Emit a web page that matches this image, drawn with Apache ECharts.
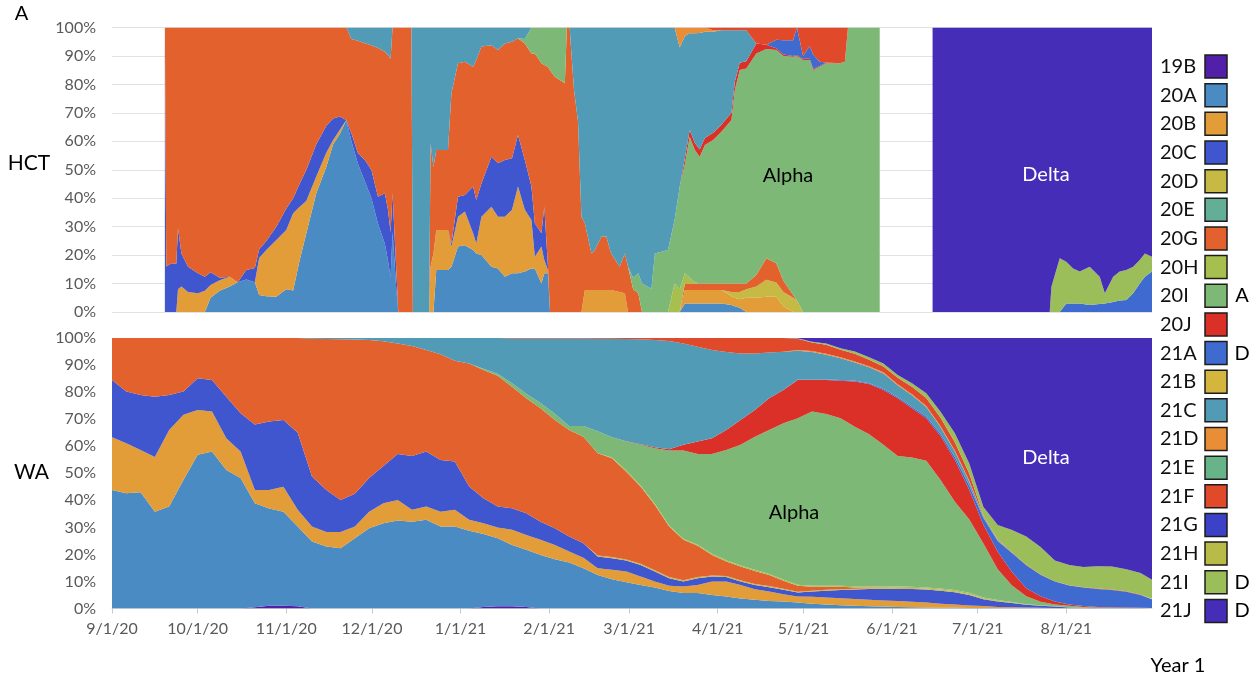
<!DOCTYPE html>
<html>
<head>
<meta charset="utf-8">
<title>SARS-CoV-2 clade frequencies, HCT and WA</title>
<script src="https://cdn.jsdelivr.net/npm/echarts@6/dist/echarts.min.js"></script>
<style>
  html, body { margin: 0; padding: 0; background: #ffffff; }
  #chart { width: 1259px; height: 679px; }
</style>
</head>
<body>
<div id="chart"></div>
<script>
// ---- categories ----
const clades = ['19B','20A','20B','20C','20D','20E','20G','20H','20I','20J',
                '21A','21B','21C','21D','21E','21F','21G','21H','21I','21J'];
const cladeNotes = { '20I': 'A', '21A': 'D', '21I': 'D', '21J': 'D' };
const monthTicks = ['9/1/20','10/1/20','11/1/20','12/1/20','1/1/21','2/1/21',
                    '3/1/21','4/1/21','5/1/21','6/1/21','7/1/21','8/1/21'];

// ---- HCT panel: sample days (days after 9/1/20) and clade shares (%) ----
const hctDay = [
18.5,19,20.8,22.5,23.1,24.3,26.6,30.1,32.5,34.5,
37.7,41.2,44,47,50,51.5,54,57.5,61,63.4,
65.7,68,71.5,75,77.4,79.7,82,83.8,86.1,88.5,
90.8,93.1,95.5,96.6,97.5,98.2,99.5,100.2,104.8,105.3,
111,111.5,112.5,113.5,117.6,118.8,121.1,123.5,126.4,127.5,
129.3,132.8,135.1,137.5,140,142.1,144.5,146.8,148,150.3,
151.3,152.6,153.3,155,158.5,159.2,160.2,160.5,161.7,163.1,
164.3,165.5,167.8,169,171.3,173,174.7,177.7,179.5,180.6,
182.4,184.2,185.5,188.8,190,194.6,196.9,198.7,200.5,202.2,
204,205.7,207.5,210.4,213.3,216.8,218,219.7,222,225.5,
229,232.5,235,238.4,239.7,241.9,244.2,245.4,247.7,250,
254.7,256.5,257.6,268.7,278,287.2,328.2,328.8,331.7,334,
336.4,338.7,342.2,345.7,347.5,350.4,352.7,355,357.4,359.7,
361.5,364];
const hct20A = [
0,0,0,0,0,0,0,0,0,5,
7.5,9,10.5,11.4,10.5,6,5.5,5.4,8,7.6,
18.3,27.6,41.7,51,59,62.5,67.5,60,52,46,
40,31,24,18,12.3,28,8,0,0,0,
0,0,0,14.8,14.8,15.9,23,23.5,21.8,20.6,
20,15.9,15.3,12.4,13.6,13.6,14.2,15.3,15.3,10,
13.6,13.6,0,0,0,0,0,0,0,0,
0,0,0,0,0,0,0,0,0,0,
0,0,0,0,0,0,0,0,3,3,
3,3,3,3,3,2.5,2,1.5,0,0,
0,0,0,0,0,0,0,0,0,0,
0,0,0,0,null,0,0,0,0,0,
0,0,0,0,0,0,0,0,0,0,
0,0];
const hct20B = [
0,0,0,0,8,9,7,6.6,7.5,4.5,
3.7,3.4,0,0,0,13,16.3,19.9,20.8,27.1,
18.7,11.4,5.9,5,1.5,1.5,0,0,0,0,
0,0,0,0,0,0,0,0,0,0,
0,16,20.6,14,14,7.1,10.5,11.8,5.9,3.5,
13.5,21.1,18.2,21.1,22.3,30.5,21.7,17,4.1,13,
4.7,1.2,0,0,0,0,0,0,0,0,
0,7.7,7.7,7.7,7.7,7.7,7.7,7,6.6,0,
0,0,0,0,0,0,0,0,4.7,4.7,
4.7,4.7,4.7,4.7,4.7,3,3,3,5,5,
5.4,5.4,2,0,0,0,0,0,0,0,
0,0,0,0,null,0,0,0,0,0,
0,0,0,0,0,0,0,0,0,0,
0,0];
const hct20C = [
100,16,17.1,17,21.4,11.6,8.9,7,4.9,4.5,
0.8,0,0,3.4,5,3,3.2,4.7,7.6,5.3,
8.2,10.9,11.4,9.5,7.5,4.7,0,2.8,3.8,7.4,
9.9,9.5,17.7,17.9,15.7,13.7,6.8,0,0,0,
0,0,0,0,0,1.1,7,5.8,16.4,15.3,
11.7,17.6,18.8,19.9,18.1,18.1,17.5,11.8,11.8,4.7,
18.7,1.1,0,0,0,0,0,0,0,0,
0,0,0,0,0,0,0,0,0,0,
0,0,0,0,0,0,0,0,0,0,
0,0,0,0,0,0,0,0,0,0,
0,0,0,0,0,0,0,0,0,0,
0,0,0,0,null,0,0,0,0,0,
0,0,0,0,0,0,0,0,0,0,
0,0];
const hct20D = [
0,0,0,0,0,0,0,0,0,0,
0,0,0,0,0,0,0,0,0,0,
0,0,0,0,0,0,0,0,0,0,
0,0,0,0,0,0,0,0,0,0,
0,0,0,0,0,0,0,0,0,0,
0,0,0,0,0,0,0,0,0,0,
0,0,0,0,0,0,0,0,0,0,
0,0,0,0,0,0,0,0,0,0,
0,0,0,0,0,0,0,0,0,0,
0,0,0,0,0,1.5,2,2.5,3,4,
5.9,5,5,5,4,0,0,0,0,0,
0,0,0,0,null,0,0,0,0,0,
0,0,0,0,0,0,0,0,0,0,
0,0];
const hct20G = [
0,84,82.9,83,70.6,79.4,84.1,86.4,87.6,86,
88,87.6,89.5,85.2,84.5,78,75,70,63.6,60,
54.8,50.1,41,34.5,32,31.3,32.5,33.2,39.5,41.1,
43.9,52.3,49.8,54.4,61,58.3,85.2,100,100,0,
0,43.3,30.4,28.1,28.1,52.8,46.9,46.9,42.1,49.2,
48.1,39.2,39.8,41,41,34,41,46.8,59.7,59.7,
49.8,70.3,85,82.7,80.4,100,100,95,78,67,
33.5,23.5,12.9,14.1,18.8,18.8,12.9,8.9,14,15.9,
8,6.6,0,0,0,0,0,0,2.3,2.3,
2.3,2.3,2.3,2.3,2.3,3,3,3,2,4,
7.6,6.7,4,1,0,0,0,0,0,0,
0,0,0,0,null,0,0,0,0,0,
0,0,0,0,0,0,0,0,0,0,
0,0];
const hct20H = [
0,0,0,0,0,0,0,0,0,0,
0,0,0,0,0,0,0,0,0,0,
0,0,0,0,0,0,0,0,0,0,
0,0,0,0,0,0,0,0,0,0,
0,0,0,0,0,0,0,0,0,0,
0,0,0,0,0,0,0,0,0,0,
0,0,0,0,0,0,0,0,0,0,
0,0,0,0,0,0,0,0,0,0,
0,0,0,0,0,0,10,8,3.6,2,
0.5,0,0,0,0,0,0,0,0,0,
0,0,0,0,0,0,0,0,0,0,
0,0,0,0,null,0,0,0,0,0,
0,0,0,0,0,0,0,0,0,0,
0,0];
const hct20I = [
0,0,0,0,0,0,0,0,0,0,
0,0,0,0,0,0,0,0,0,0,
0,0,0,0,0,0,0,0,0,0,
0,0,0,0,0,0,0,0,0,0,
0,0,0,0,0,0,0,0,0,0,
0,0,0,0,0,0,1.6,9.1,9.1,12.6,
13.2,13.8,15,17.3,19.6,0,0,0,0,0,
0,0,0,0,0,0,0,0,0,0,
4,7,10,8.2,20.6,21.8,22.3,36,38.4,49.6,
46.4,44.6,48.7,50.5,53.4,57.5,68,75.1,75.6,77.9,
73.5,75,79,83.7,86,88.6,88.6,85.1,86.2,87.4,
87.4,88,100,100,null,0,0,0,0,0,
0,0,0,0,0,0,0,0,0,0,
0,0];
const hct20J = [
0,0,0,0,0,0,0,0,0,0,
0,0,0,0,0,0,0,0,0,0,
0,0,0,0,0,0,0,0,0,0,
0,0,0,0,0,0,0,0,0,0,
0,0,0,0,0,0,0,0,0,0,
0,0,0,0,0,0,0,0,0,0,
0,0,0,0,0,0,0,0,0,0,
0,0,0,0,0,0,0,0,0,0,
0,0,0,0,0,0,0,0,2,2.4,
2.5,2.5,2.5,2.5,2.4,2.5,3,2.5,2.5,3.5,
1.5,0.6,0.5,0.3,0.3,0.4,0.4,0.4,0.3,0.3,
0,0,0,0,null,0,0,0,0,0,
0,0,0,0,0,0,0,0,0,0,
0,0];
const hct21A = [
0,0,0,0,0,0,0,0,0,0,
0,0,0,0,0,0,0,0,0,0,
0,0,0,0,0,0,0,0,0,0,
0,0,0,0,0,0,0,0,0,0,
0,0,0,0,0,0,0,0,0,0,
0,0,0,0,0,0,0,0,0,0,
0,0,0,0,0,0,0,0,0,0,
0,0,0,0,0,0,0,0,0,0,
0,0,0,0,0,0,0,0,0,0,
0,0,0,0,0,0,0,0,0,0,
0,3,5,5.5,9.7,1,4.5,5,1.5,0,
0,0,0,0,null,0,0,0,0,3,
3,3,2.5,2.8,3,3.5,4,4.2,6.6,10,
12.4,14.2];
const hct21C = [
0,0,0,0,0,0,0,0,0,0,
0,0,0,0,0,0,0,0,0,0,
0,0,0,0,0,0,0,4,4.7,5.5,
6.2,7.2,8.5,9.7,11,0,0,0,0,100,
100,40.7,49,43.1,43.1,23.1,12.6,12,13.8,11.4,
6.7,6.2,7.9,5.6,5,3.8,4,0,0,0,
0,0,0,0,0,0,0,5,22,33,
66.5,68.8,79.4,78.2,73.5,73.5,79.4,84.1,79.4,84.1,
88,86.4,90,91.8,79.4,78.2,67.7,49,43,34,
38.6,41,37.3,35.5,33.2,29,18,11.4,10.9,0,
0,0,0,0,0,0,0,0,0,0,
0,0,0,0,null,0,0,0,0,0,
0,0,0,0,0,0,0,0,0,0,
0,0];
const hct21D = [
0,0,0,0,0,0,0,0,0,0,
0,0,0,0,0,0,0,0,0,0,
0,0,0,0,0,0,0,0,0,0,
0,0,0,0,0,0,0,0,0,0,
0,0,0,0,0,0,0,0,0,0,
0,0,0,0,0,0,0,0,0,0,
0,0,0,0,0,0,0,0,0,0,
0,0,0,0,0,0,0,0,0,0,
0,0,0,0,0,0,0,7,3,2,
2,1.9,1.5,0.5,0,0,0,0,0,0,
0,0,0,0,0,0,0,0,0,0,
0,0,0,0,null,0,0,0,0,0,
0,0,0,0,0,0,0,0,0,0,
0,0];
const hct21F = [
0,0,0,0,0,0,0,0,0,0,
0,0,0,0,0,0,0,0,0,0,
0,0,0,0,0,0,0,0,0,0,
0,0,0,0,0,0,0,0,0,0,
0,0,0,0,0,0,0,0,0,0,
0,0,0,0,0,0,0,0,0,0,
0,0,0,0,0,0,0,0,0,0,
0,0,0,0,0,0,0,0,0,0,
0,0,0,0,0,0,0,0,0,0,
0,0,0,1,1,1,1,1,1,5.6,
6.1,4.3,4.5,4.5,0,10,6.5,9.5,12,12.3,
12.6,12,0,0,null,0,0,0,0,0,
0,0,0,0,0,0,0,0,0,0,
0,0];
const hct21I = [
0,0,0,0,0,0,0,0,0,0,
0,0,0,0,0,0,0,0,0,0,
0,0,0,0,0,0,0,0,0,0,
0,0,0,0,0,0,0,0,0,0,
0,0,0,0,0,0,0,0,0,0,
0,0,0,0,0,0,0,0,0,0,
0,0,0,0,0,0,0,0,0,0,
0,0,0,0,0,0,0,0,0,0,
0,0,0,0,0,0,0,0,0,0,
0,0,0,0,0,0,0,0,0,0,
0,0,0,0,0,0,0,0,0,0,
0,0,0,0,null,0,0,8.9,18.9,14.7,
12.3,11.2,13.4,9.6,3.6,8.9,10.2,10.6,9.3,8.3,
8.2,5.2];
const hct21J = [
0,0,0,0,0,0,0,0,0,0,
0,0,0,0,0,0,0,0,0,0,
0,0,0,0,0,0,0,0,0,0,
0,0,0,0,0,0,0,0,0,0,
0,0,0,0,0,0,0,0,0,0,
0,0,0,0,0,0,0,0,0,0,
0,0,0,0,0,0,0,0,0,0,
0,0,0,0,0,0,0,0,0,0,
0,0,0,0,0,0,0,0,0,0,
0,0,0,0,0,0,0,0,0,0,
0,0,0,0,0,0,0,0,0,0,
0,0,0,0,null,100,100,91.1,81.1,82.3,
84.7,85.8,84.1,87.6,93.4,87.6,85.8,85.2,84.1,81.7,
79.4,80.6];

// ---- WA panel: sample days (days after 9/1/20) and clade shares (%) ----
const waDay = [
0,5,10,15,20,25,30,35,40,45,
50,55,60,65,70,75,80,85,90,95,
100,105,110,115,120,125,130,135,140,145,
150,155,160,165,170,175,180,185,190,195,
200,205,210,215,220,225,230,235,240,245,
250,255,260,265,270,275,280,285,290,295,
300,305,310,315,320,325,330,335,340,345,
350,355,360,364];
const wa19B = [
0,0,0,0,0,0,0,0,0,0,
0.5,1,1,0.8,0,0,0,0,0,0,
0,0,0,0,0,0,0.6,0.8,0.8,0.6,
0,0,0,0,0,0,0,0,0,0,
0,0,0,0,0,0,0,0,0,0,
0,0,0,0,0,0,0,0,0,0,
0,0,0,0,0,0,0,0,0,0,
0,0,0,0];
const wa20A = [
43.8,42.6,43,35.8,37.7,47.5,56.8,58,51.2,48.2,
38.4,36,34.8,29.5,24.8,22.9,22.3,26,29.7,31.5,
32.5,32.1,32.8,30.3,30.3,28.7,26.9,25.2,22.7,21.1,
19.8,18.2,17,14.9,12.4,10.8,9.7,8.7,7.8,6.5,
5.7,5.7,5,4.4,3.7,3.2,2.8,2.6,2.2,1.8,
1.5,1.2,1,0.8,0.7,0.6,0.5,0.4,0.3,0.3,
0.2,0.2,0.1,0.1,0.1,0.1,0.1,0,0,0,
0,0,0,0];
const wa20B = [
19.5,18.5,15.6,20.2,28.3,24.1,16.6,14.8,11.7,9.8,
4.9,6.8,9.2,6.2,5.5,5.4,6,4.3,6.1,7.4,
7.6,4.4,4.9,5.5,6.2,4.1,4,3.9,5.6,5.5,
5.6,5.3,4.1,3.9,2.5,3.5,4,3.1,2.2,1.9,
2.4,3,5,5.6,5,3.9,3.5,2.7,2.2,2.5,
2.6,2.6,2.5,2.4,2.3,2.2,2,1.8,1.5,1.2,
0.9,0.7,0.5,0.4,0.3,0.2,0.1,0.1,0.1,0,
0,0,0,0];
const wa20C = [
21.2,19.1,20.3,22.3,12.9,8.6,11.7,11.7,15.4,14.2,
24.2,25.3,24.7,28.5,18.5,15.5,11.8,12.1,12.4,13.8,
17,19.9,20.3,19.1,17.8,12.3,9.3,7.8,8,8,
6.7,6.2,5.5,5.3,4.3,4.3,4,4.3,3.7,2.8,
1.9,2.5,1.8,1.6,1.3,1.6,1.6,1.6,1.5,2,
2.5,3,3.5,4,4.3,4.4,4.7,4.8,4.8,4.5,
3.9,2.5,2,1.5,1,0.7,0.5,0.3,0.2,0.1,
0.1,0.1,0,0];
const wa20D = [
0,0,0,0,0,0,0,0,0,0,
0,0,0,0,0,0,0,0,0,0,
0,0,0,0,0,0,0,0,0,0,
0,0,0,0,0.4,0.4,0.4,0.4,0.4,0.4,
0.4,0.4,0.4,0.4,0.4,0.4,0.4,0.4,0.3,0.3,
0.3,0.3,0.3,0.3,0.3,0.3,0.3,0.3,0.3,0.3,
0.3,0.2,0.1,0.1,0,0,0,0,0,0,
0,0,0,0];
const wa20G = [
15.5,19.8,21.1,21.7,21.1,19.8,14.9,15.5,21.7,27.8,
32,30.9,30.3,35,50.9,55.8,59.4,57,51.1,46.1,
40.9,40.6,37.6,39.1,37.3,45.5,47.4,48.3,44.9,42.5,
41.9,40,39.4,39.4,37.8,36.5,32.5,28.6,24.2,18.7,
15,11.6,7.6,5.4,5.1,4.8,4.1,3,2.2,1.4,
1.1,0.9,0.5,0.3,0.2,0.2,0.1,0.1,0.1,0.1,
0.1,0.1,0.1,0,0,0,0,0,0,0,
0,0,0,0];
const wa20H = [
0,0,0,0,0,0,0,0,0,0,
0,0,0,0,0,0,0,0,0,0,
0,0,0,0,0,0,0,0,0,0,
0,0,0,0,0,0.3,0.4,0.4,0.4,0.4,
0.4,0.4,0.4,0.4,0.4,0.4,0.4,0.4,0.4,0.4,
0.4,0.4,0.4,0.4,0.4,0.4,0.4,0.4,0.4,0.4,
0.4,0.4,0.3,0.3,0.2,0.2,0.1,0.1,0,0,
0,0,0,0];
const wa20I = [
0,0,0,0,0,0,0,0,0,0,
0,0,0,0,0,0,0,0,0,0,
0,0,0,0,0,0,0.4,0.8,1.3,1.7,
2,2.3,1.5,4,8.1,7.5,10.7,15,20.5,27.7,
32.6,33.5,36.9,40.8,44.6,49.2,53.2,57.8,61.5,64.4,
63.5,61.9,59,56.2,52.3,48.3,47.8,46.8,40.1,32.7,
27.2,19.9,11.4,6.1,2.9,1.3,0.7,0.5,0.3,0.3,
0.2,0.1,0.1,0.1];
const wa20J = [
0,0,0,0,0,0,0,0,0,0,
0,0,0,0,0,0,0,0,0,0,
0,0,0,0,0,0,0,0,0,0,
0,0,0,0,0,0,0.1,0.2,0.4,0.5,
2.1,4.6,5.8,7.4,9.2,9.9,11.7,12.3,14.2,11.7,
12.6,13.9,16.7,18.6,20.3,21.3,18.2,15.7,16.3,15.4,
11,7,6.5,5,3,2,1.1,0.5,0.3,0.2,
0.2,0.2,0.2,0.1];
const wa21A = [
0,0,0,0,0,0,0,0,0,0,
0,0,0,0,0,0,0,0,0,0,
0,0,0,0,0,0,0,0,0,0,
0,0,0,0,0,0,0,0,0,0,
0,0,0,0,0,0,0,0,0.2,0.2,
0.2,0.3,0.3,0.3,0.4,0.5,0.6,0.7,0.8,1.1,
1.5,2.5,4,7,8.5,8,7.4,7,6.9,6.6,
6.3,5.8,4.7,3.2];
const wa21C = [
0,0,0,0,0,0,0,0,0,0,
0,0,0,0,0.3,0.4,0.5,0.6,0.7,1.2,
2,3,4.4,6,8.4,9.4,11.4,13.2,16.5,20.4,
23.8,27.8,32.3,32.3,34.2,36.4,37.8,38.8,39.7,40,
37.5,35.1,32.7,28.8,24.6,20.9,16.9,14.1,10.6,10.1,
9.1,8,6.7,5.9,5.7,4.3,4.2,3.5,2.4,2,
1.5,0.5,0.2,0.1,0,0,0,0,0,0,
0,0,0,0];
const wa21D = [
0,0,0,0,0,0,0,0,0,0,
0,0,0,0,0,0,0,0,0,0,
0,0,0,0,0,0,0,0,0,0,
0,0,0,0,0,0,0,0,0,0,
0,0,0,0,0,0,0,0,0.3,0.4,
0.4,0.4,0.4,0.4,0.4,0.4,0.4,0.4,0.4,0.4,
0.4,0.2,0.1,0,0,0,0,0,0,0,
0,0,0,0];
const wa21F = [
0,0,0,0,0,0,0,0,0,0,
0,0,0,0,0,0,0,0,0,0,
0,0,0,0,0,0,0,0,0.2,0.2,
0.2,0.2,0.2,0.2,0.3,0.3,0.4,0.5,0.7,1.1,
2,3.2,4.4,5.2,5.7,5.7,5.4,5.1,4.1,3.1,
3.3,2.8,2.9,2.4,2.2,2.4,2.8,2.9,3.1,3.1,
2.6,0.3,0.2,0.2,0.2,0.1,0.1,0.1,0.1,0.2,
0.2,0.2,0.2,0.2];
const wa21I = [
0,0,0,0,0,0,0,0,0,0,
0,0,0,0,0,0,0,0,0,0,
0,0,0,0,0,0,0,0,0,0,
0,0,0,0,0,0,0,0,0,0,
0,0,0,0,0,0,0,0,0.2,0.3,
0.5,0.5,0.8,0.9,1.1,1,1.3,1.8,2.2,3.3,
3.7,3,5.4,8.2,10.4,10.1,7.6,7.5,7.4,8.2,
8.5,8.1,7.9,7];
const wa21J = [
0,0,0,0,0,0,0,0,0,0,
0,0,0,0,0,0,0,0,0,0,
0,0,0,0,0,0,0,0,0,0,
0,0,0,0,0,0,0,0,0,0,
0,0,0,0,0,0,0,0,0.1,1.4,
2,3.8,5,7.1,9.4,13.7,16.7,20.4,27.3,35.2,
46.3,62.5,69.1,71,73.4,77.3,82.3,83.9,84.7,84.4,
84.5,85.5,86.9,89.4];

// ---- styling ----
const FONT = 'Lato, "Open Sans", "DejaVu Sans", sans-serif';
const cladeColor = {
  '19B': '#5220A8', '20A': '#4A8BC4', '20B': '#E29C38', '20C': '#4056CF',
  '20D': '#C6B944', '20E': '#63AE97', '20G': '#E2612D', '20H': '#A7BF4F',
  '20I': '#7DB877', '20J': '#DB3027', '21A': '#3F6BD0', '21B': '#D4B53E',
  '21C': '#529BB7', '21D': '#E98E36', '21E': '#67B488', '21F': '#E0492A',
  '21G': '#3B42C7', '21H': '#B8BB47', '21I': '#9BBE5B', '21J': '#452DB8'
};

// Series sit on time axes (stacking runs along y); a day-count axis laid over
// the lower panel carries the month ticks and labels.
const DAY_MS = 86400000;
const T0 = Date.UTC(2020, 8, 1);
const LAST_DAY = 364;

function tickDay(label) {
  const p = label.split('/').map(Number);
  return Math.round((Date.UTC(2000 + p[2], p[0] - 1, p[1]) - T0) / DAY_MS);
}
const tickDays = monthTicks.map(tickDay);
const tickText = {};
tickDays.forEach((d, i) => { tickText[d] = monthTicks[i]; });

function stackedAreas(stack, axis, days, layers) {
  return layers.map(([name, values]) => ({
    name: name,
    type: 'line',
    stack: stack,
    xAxisIndex: axis,
    yAxisIndex: axis,
    symbol: 'none',
    silent: true,
    connectNulls: false,
    lineStyle: { width: 0, color: cladeColor[name] },
    itemStyle: { color: cladeColor[name] },
    areaStyle: { color: cladeColor[name], opacity: 1 },
    emphasis: { disabled: true },
    data: values.map((v, i) => [T0 + days[i] * DAY_MS, v])
  }));
}

const hctLayers = [
  ['20A', hct20A], ['20B', hct20B], ['20C', hct20C], ['20D', hct20D],
  ['20G', hct20G], ['20H', hct20H], ['20I', hct20I], ['20J', hct20J],
  ['21A', hct21A], ['21C', hct21C], ['21D', hct21D], ['21F', hct21F],
  ['21I', hct21I], ['21J', hct21J]
];
const waLayers = [
  ['19B', wa19B], ['20A', wa20A], ['20B', wa20B], ['20C', wa20C], ['20D', wa20D],
  ['20E', []], ['20G', wa20G], ['20H', wa20H], ['20I', wa20I], ['20J', wa20J],
  ['21A', wa21A], ['21B', []], ['21C', wa21C], ['21D', wa21D], ['21E', []],
  ['21F', wa21F], ['21G', []], ['21H', []], ['21I', wa21I], ['21J', wa21J]
];

// legend geometry (used for the side notes too)
const LEG_LEFT = 1160, LEG_TOP = 54.3, LEG_H = 23, LEG_BORDER = 1.5, LEG_PITCH = 28.65;
const LEG_GAP = LEG_PITCH - LEG_H - LEG_BORDER;

const labelStyle = { color: '#595959', fontSize: 16, fontFamily: FONT };

function yAxisFor(i) {
  return {
    gridIndex: i, type: 'value', min: 0, max: 100, interval: 10,
    axisLine: { show: false }, axisTick: { show: false },
    axisLabel: Object.assign({ formatter: '{value}%', margin: 16 }, labelStyle),
    splitLine: { show: true, lineStyle: { color: '#E2E2E2', width: 1 } }
  };
}
function timeAxisFor(i) {
  return {
    gridIndex: i, type: 'time', min: T0, max: T0 + LAST_DAY * DAY_MS,
    axisLine: { show: false }, axisTick: { show: false },
    axisLabel: { show: false }, splitLine: { show: false }
  };
}

const texts = [
  { text: 'A', x: 21.5, y: 13.5, size: 20, color: '#000' },
  { text: 'HCT', x: 29, y: 163.5, size: 21, color: '#000' },
  { text: 'WA', x: 31.5, y: 472, size: 21, color: '#000' },
  { text: 'Alpha', x: 788, y: 176, size: 20, color: '#000' },
  { text: 'Delta', x: 1046, y: 175, size: 20, color: '#fff' },
  { text: 'Alpha', x: 794, y: 513, size: 20, color: '#000' },
  { text: 'Delta', x: 1046, y: 458, size: 20, color: '#fff' },
  { text: 'Year 1', x: 1178, y: 666, size: 20, color: '#000' }
];
Object.keys(cladeNotes).forEach(name => {
  const idx = clades.indexOf(name);
  texts.push({
    text: cladeNotes[name], x: 1242,
    y: LEG_TOP + LEG_BORDER / 2 + idx * LEG_PITCH + LEG_H / 2,
    size: 20, color: '#000'
  });
});

const option = {
  animation: false,
  useUTC: true,
  backgroundColor: '#ffffff',
  textStyle: { fontFamily: FONT },
  grid: [
    { left: 112, top: 27.5, width: 1040, height: 284.5, containLabel: false },
    { left: 112, top: 338, width: 1040, height: 270.5, containLabel: false }
  ],
  xAxis: [
    timeAxisFor(0),
    timeAxisFor(1),
    {
      gridIndex: 1, type: 'value', min: 0, max: LAST_DAY, position: 'bottom',
      axisLine: { show: true, onZero: false, lineStyle: { color: '#D9D9D9', width: 1 } },
      axisTick: { show: true, customValues: tickDays, length: 5, lineStyle: { color: '#C8C8C8' } },
      axisLabel: Object.assign({
        customValues: tickDays, margin: 12, hideOverlap: false,
        formatter: v => tickText[Math.round(v)] || ''
      }, labelStyle),
      splitLine: { show: false }
    }
  ],
  yAxis: [yAxisFor(0), yAxisFor(1)],
  legend: {
    orient: 'vertical', left: LEG_LEFT, top: LEG_TOP, padding: 0,
    itemWidth: 22, itemHeight: LEG_H, itemGap: LEG_GAP,
    align: 'right', icon: 'rect', selectedMode: false,
    itemStyle: { borderColor: '#1c1c1c', borderWidth: LEG_BORDER },
    formatter: name => '{t|' + name + '}',
    textStyle: {
      rich: { t: { width: 40, align: 'left', fontSize: 20, lineHeight: 22, color: '#111', fontFamily: FONT } }
    },
    data: clades
  },
  graphic: texts.map(t => ({
    type: 'text', x: t.x, y: t.y, silent: true, z: 100,
    style: {
      text: t.text, fill: t.color, fontSize: t.size, fontFamily: FONT,
      align: 'center', verticalAlign: 'middle'
    }
  })),
  series: stackedAreas('hct', 0, hctDay, hctLayers)
    .concat(stackedAreas('wa', 1, waDay, waLayers))
};

const chart = echarts.init(document.getElementById('chart'), null, { renderer: 'canvas' });
chart.setOption(option);
</script>
</body>
</html>
